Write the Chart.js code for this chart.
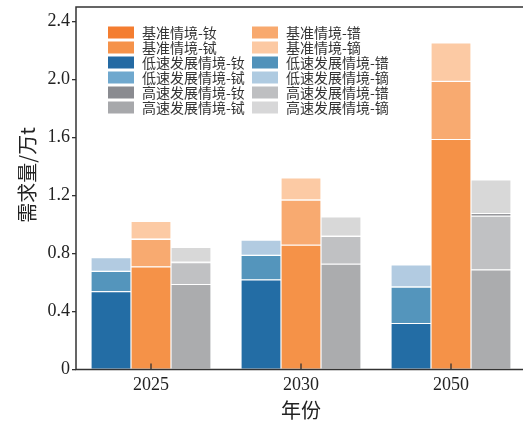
<!DOCTYPE html>
<html>
<head>
<meta charset="utf-8">
<script src="https://cdn.jsdelivr.net/npm/chart.js@4/dist/chart.umd.min.js"></script>
<style>
  html, body { margin: 0; padding: 0; overflow: hidden; background: #fff; }
  #wrap { width: 532px; height: 422px; }
</style>
</head>
<body>
<div id="wrap"><canvas id="c" width="532" height="422"></canvas></div>
<script>
// Rare-earth demand (万t) by year, scenario and element
const years = ['2025', '2030', '2050'];
const elements = ['钕', '镨', '铽', '镝'];

// 基准情境
const baseNd = [0.71, 0.86, 1.59];
const basePr = [0.19, 0.31, 0.40];
const baseTb = [0.005, 0.005, 0.005];
const baseDy = [0.12, 0.15, 0.26];

// 低速发展情境
const lowNd = [0.54, 0.62, 0.32];
const lowPr = [0.14, 0.17, 0.25];
const lowTb = [0.005, 0.005, 0.005];
const lowDy = [0.09, 0.10, 0.15];

// 高速发展情境
const highNd = [0.59, 0.73, 0.69];
const highPr = [0.15, 0.19, 0.37];
const highTb = [0.005, 0.005, 0.02];
const highDy = [0.10, 0.13, 0.23];

const yTicks = [0, 0.4, 0.8, 1.2, 1.6, 2.0, 2.4];

// colours: [钕, 镨, 铽, 镝]
const barColors = {
  base: ['#F59248', '#F8AA70', '#F5924A', '#FCCAA4'],
  low:  ['#236DA5', '#5495BC', '#6FA8CE', '#B2CBE1'],
  high: ['#ABACAE', '#C0C1C3', '#96979B', '#D8D8D8']
};
const keyColors = {
  base: ['#F47D30', '#F8A96E', '#F5924A', '#FCC9A3'],
  low:  ['#246AA3', '#5192BA', '#6FA8CE', '#AFCBE1'],
  high: ['#8A8B90', '#BEBFC1', '#A7A8AB', '#D7D7D8']
};

const scenarios = [
  { key: 'low',  name: '低速发展情境', series: [lowNd, lowPr, lowTb, lowDy] },
  { key: 'base', name: '基准情境',     series: [baseNd, basePr, baseTb, baseDy] },
  { key: 'high', name: '高速发展情境', series: [highNd, highPr, highTb, highDy] }
];

const datasets = [];
scenarios.forEach(s => {
  s.series.forEach((vals, i) => {
    datasets.push({
      label: s.name + '-' + elements[i],
      data: vals,
      stack: s.key,
      backgroundColor: barColors[s.key][i],
      keyColor: keyColors[s.key][i],
      borderColor: 'rgba(255,255,255,0.85)',
      borderWidth: { top: 1, left: 0.6, right: 0.6, bottom: 0 },
      borderSkipped: false,
      categoryPercentage: 0.8,
      barPercentage: 1.0
    });
  });
});

// key layout: two columns, six rows
const keyColumns = [
  ['基准情境-钕', '基准情境-铽', '低速发展情境-钕', '低速发展情境-铽', '高速发展情境-钕', '高速发展情境-铽'],
  ['基准情境-镨', '基准情境-镝', '低速发展情境-镨', '低速发展情境-镝', '高速发展情境-镨', '高速发展情境-镝']
];

const framePlugin = {
  id: 'frame',
  afterDatasetsDraw(chart) {
    const { ctx, chartArea: a, scales: { x } } = chart;
    ctx.save();
    ctx.strokeStyle = '#333';
    ctx.lineWidth = 1.5;
    ctx.strokeRect(a.left, a.top, a.right - a.left, a.bottom - a.top);
    // inward category ticks
    ctx.lineWidth = 1.3;
    x.ticks.forEach((t, i) => {
      const px = x.getPixelForTick(i);
      ctx.beginPath();
      ctx.moveTo(px, a.bottom);
      ctx.lineTo(px, a.bottom - 6);
      ctx.stroke();
    });
    ctx.restore();
  },
  afterDraw(chart) {
    const { ctx, chartArea: a } = chart;
    ctx.save();
    // y axis title
    ctx.translate(27, 175);
    ctx.rotate(-Math.PI / 2);
    ctx.font = '20px "Noto Sans CJK SC"';
    ctx.fillStyle = '#222';
    ctx.textAlign = 'center';
    ctx.textBaseline = 'middle';
    ctx.fillText('需求量/万t', 0, 0);
    ctx.restore();

    // key
    ctx.save();
    const byLabel = {};
    chart.data.datasets.forEach(d => { byLabel[d.label] = d; });
    ctx.font = '14px "Noto Sans CJK SC"';
    ctx.textBaseline = 'middle';
    ctx.textAlign = 'left';
    const colX = [a.left + 32, a.left + 176];
    keyColumns.forEach((col, c) => {
      col.forEach((label, r) => {
        const cy = a.top + 25.5 + r * 15;
        ctx.fillStyle = byLabel[label].keyColor;
        ctx.fillRect(colX[c], cy - 6, 26, 12);
        ctx.fillStyle = '#333';
        ctx.fillText(label, colX[c] + 34, cy + 0.5);
      });
    });
    ctx.restore();
  }
};

new Chart(document.getElementById('c'), {
  type: 'bar',
  data: { labels: years, datasets },
  options: {
    responsive: false,
    animation: false,
    devicePixelRatio: 1,
    layout: { padding: { left: 0, top: 7, right: 6, bottom: 0 } },
    plugins: { legend: { display: false }, tooltip: { enabled: false } },
    scales: {
      x: {
        stacked: true,
        grid: { display: false, drawTicks: false },
        border: { display: false },
        ticks: {
          padding: 5,
          color: '#222',
          font: { family: '"Liberation Serif"', size: 18 }
        },
        title: {
          display: true,
          text: '年份',
          color: '#222',
          padding: { top: 0, bottom: 0 },
          font: { family: '"Noto Sans CJK SC"', size: 20 }
        },
        afterFit(scale) {
          scale.height = 52.5;
          scale.paddingLeft = 0;
          scale.paddingRight = 0;
        }
      },
      y: {
        stacked: true,
        min: 0,
        max: 2.5,
        afterBuildTicks(scale) { scale.ticks = yTicks.map(v => ({ value: v })); },
        grid: {
          drawOnChartArea: false,
          drawTicks: true,
          tickLength: 4,
          color: '#333',
          lineWidth: 1.3
        },
        border: { display: false },
        ticks: {
          padding: 2,
          color: '#222',
          font: { family: '"Liberation Serif"', size: 18 },
          callback: v => (v === 0 ? '0' : v.toFixed(1))
        },
        afterFit(scale) {
          scale.width = 76;
          scale.paddingTop = 0;
          scale.paddingBottom = 0;
        }
      }
    }
  },
  plugins: [framePlugin]
});
</script>
</body>
</html>
